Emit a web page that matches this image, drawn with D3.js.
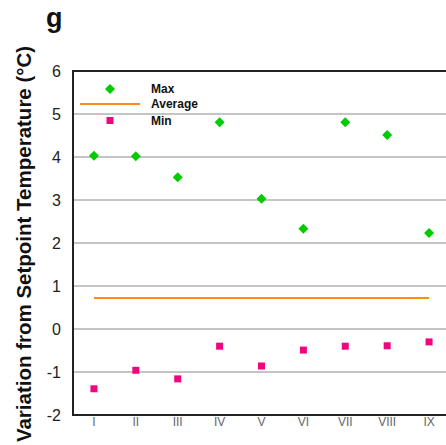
<!DOCTYPE html>
<html>
<head>
    <meta charset="UTF-8">
    <title>Variation from Setpoint Temperature</title>
    <style>
        body { margin: 0; padding: 0; background: #fff; font-family: Arial, "Liberation Sans", sans-serif; }
        svg { display: block; }
    </style>
    <script src="https://d3js.org/d3.v7.min.js"></script>
</head>
<body>
    <div id="chart"></div>
    <script>
        var categories = ["I", "II", "III", "IV", "V", "VI", "VII", "VIII", "IX"];
        var maxValues = [4.03, 4.02, 3.53, 4.81, 3.03, 2.33, 4.81, 4.51, 2.23];
        var minValues = [-1.39, -0.96, -1.16, -0.40, -0.86, -0.49, -0.40, -0.39, -0.30];
        var averageValue = 0.72;
        var yTicks = [-2, -1, 0, 1, 2, 3, 4, 5, 6];

        var width = 446, height = 445;
        var margin = {top: 71, right: -4, bottom: 30, left: 73};

        var svg = d3.select("#chart").append("svg")
            .attr("width", width)
            .attr("height", height);

        var x = d3.scaleBand()
            .domain(categories)
            .range([margin.left, width - margin.right]);

        var y = d3.scaleLinear()
            .domain([-2, 6])
            .range([height - margin.bottom, margin.top]);

        // grid lines
        svg.append("g").selectAll("line")
            .data(yTicks.filter(function (d) { return d > -2 && d < 6; }))
            .enter().append("line")
            .attr("x1", margin.left)
            .attr("x2", width)
            .attr("y1", function (d) { return y(d); })
            .attr("y2", function (d) { return y(d); })
            .attr("stroke", "#8a8a8a")
            .attr("stroke-width", 1);

        // frame: top, left, bottom
        svg.append("line")
            .attr("x1", margin.left).attr("x2", width)
            .attr("y1", y(6)).attr("y2", y(6))
            .attr("stroke", "#222").attr("stroke-width", 2);
        svg.append("line")
            .attr("x1", margin.left).attr("x2", margin.left)
            .attr("y1", y(6) - 1).attr("y2", y(-2) + 1)
            .attr("stroke", "#222").attr("stroke-width", 2);
        svg.append("line")
            .attr("x1", margin.left).attr("x2", width)
            .attr("y1", y(-2)).attr("y2", y(-2))
            .attr("stroke", "#222").attr("stroke-width", 2);

        // y tick labels
        svg.append("g").selectAll("text")
            .data(yTicks)
            .enter().append("text")
            .attr("x", 61)
            .attr("y", function (d) { return y(d); })
            .attr("dy", "0.36em")
            .attr("text-anchor", "end")
            .attr("font-size", "16px")
            .attr("fill", "#222")
            .text(function (d) { return d; });

        // x tick labels
        svg.append("g").selectAll("text")
            .data(categories)
            .enter().append("text")
            .attr("x", function (d) { return x(d) + x.bandwidth() / 2; })
            .attr("y", y(-2) + 11)
            .attr("text-anchor", "middle")
            .attr("font-size", "12px")
            .attr("fill", "#666")
            .text(function (d) { return d; });

        // average line
        svg.append("line")
            .attr("x1", x(categories[0]) + x.bandwidth() / 2)
            .attr("x2", x(categories[categories.length - 1]) + x.bandwidth() / 2)
            .attr("y1", y(averageValue))
            .attr("y2", y(averageValue))
            .attr("stroke", "#ff8c1a")
            .attr("stroke-width", 2);

        // max diamonds
        var diamond = d3.symbol().type(d3.symbolSquare).size(50);
        svg.append("g").selectAll("path")
            .data(maxValues)
            .enter().append("path")
            .attr("d", diamond)
            .attr("transform", function (d, i) {
                return "translate(" + (x(categories[i]) + x.bandwidth() / 2) + "," + y(d) + ") rotate(45)";
            })
            .attr("fill", "#00cc00");

        // min squares
        svg.append("g").selectAll("rect")
            .data(minValues)
            .enter().append("rect")
            .attr("x", function (d, i) { return x(categories[i]) + x.bandwidth() / 2 - 3.5; })
            .attr("y", function (d) { return y(d) - 3.5; })
            .attr("width", 7)
            .attr("height", 7)
            .attr("fill", "#f0077f");

        // legend
        var legend = svg.append("g").attr("font-size", "12px").attr("font-weight", "bold").attr("fill", "#111");
        legend.append("path")
            .attr("d", diamond)
            .attr("transform", "translate(110,89) rotate(45)")
            .attr("fill", "#00cc00");
        legend.append("text").attr("x", 151).attr("y", 93).text("Max");
        legend.append("line")
            .attr("x1", 80).attr("x2", 140)
            .attr("y1", 104).attr("y2", 104)
            .attr("stroke", "#ff8c1a").attr("stroke-width", 2);
        legend.append("text").attr("x", 151).attr("y", 108).text("Average");
        legend.append("rect")
            .attr("x", 106.5).attr("y", 117).attr("width", 7).attr("height", 7)
            .attr("fill", "#f0077f");
        legend.append("text").attr("x", 151).attr("y", 125).text("Min");

        // y axis title
        svg.append("text")
            .attr("transform", "translate(31,244) rotate(-90)")
            .attr("text-anchor", "middle")
            .attr("font-size", "20.5px")
            .attr("font-weight", "bold")
            .attr("fill", "#111")
            .text("Variation from Setpoint Temperature (°C)");

        // panel label
        svg.append("text")
            .attr("x", 46)
            .attr("y", 27)
            .attr("font-size", "27px")
            .attr("font-weight", "bold")
            .attr("fill", "#111")
            .text("g");
    </script>
</body>
</html>
